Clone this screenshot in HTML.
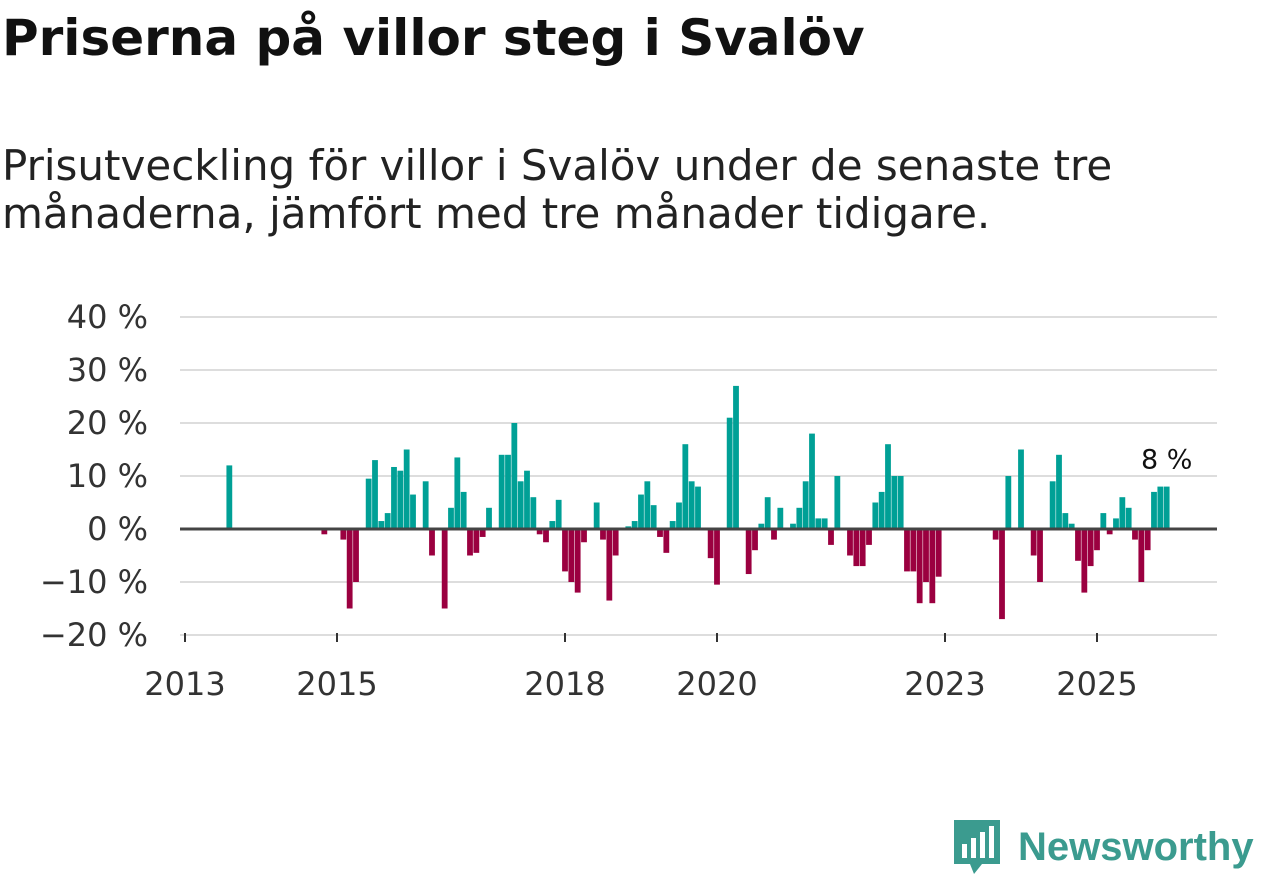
<!DOCTYPE html>
<html><head><meta charset="utf-8"><style>
body{margin:0;width:1262px;height:879px;background:#fff;font-family:"DejaVu Sans",sans-serif;overflow:hidden;position:relative}
h1{position:absolute;left:2px;top:8px;margin:0;font-size:50px;line-height:60px;font-weight:bold;color:#111;white-space:nowrap}
p{position:absolute;left:2px;top:142px;margin:0;font-size:42px;line-height:48px;color:#222;width:1260px;white-space:nowrap}
</style></head><body>
<h1>Priserna på villor steg i Svalöv</h1>
<p>Prisutveckling för villor i Svalöv under de senaste tre<br>månaderna, jämfört med tre månader tidigare.</p>
<svg id="chart" width="1262" height="879" style="position:absolute;left:0;top:0" xmlns="http://www.w3.org/2000/svg"></svg>
<div style="position:absolute;left:952px;top:818px;display:flex;align-items:center">
<svg width="50" height="58" viewBox="0 0 50 58"><path d="M2 2h46v44H30l-8 10-4-10H2z" fill="#3b9b8f"/><rect x="10" y="26" width="5" height="14" fill="#fff"/><rect x="19" y="20" width="5" height="20" fill="#fff"/><rect x="28" y="14" width="5" height="26" fill="#fff"/><rect x="37" y="8" width="5" height="32" fill="#fff"/></svg>
<span style="font-size:40px;color:#3b9b8f;margin-left:16px;font-weight:bold;font-family:'Liberation Sans',sans-serif">Newsworthy</span></div>
<script>
const months=[7,22,25,26,27,29,30,31,32,33,34,35,36,38,39,41,42,43,44,45,46,47,48,50,51,52,53,54,55,56,57,58,59,60,61,62,63,65,66,67,68,70,71,72,73,74,75,76,77,78,79,80,81,83,84,86,87,89,90,91,92,93,94,96,97,98,99,100,101,102,103,105,106,107,108,109,110,111,112,113,114,115,116,117,118,119,128,129,130,132,134,135,137,138,139,140,141,142,143,144,145,146,147,148,149,150,151,152,153,154,155];
const values=[12,-1,-2,-15,-10,9.5,13,1.5,3,11.7,11,15,6.5,9,-5,-15,4,13.5,7,-5,-4.5,-1.5,4,14,14,20,9,11,6,-1,-2.5,1.5,5.5,-8,-10,-12,-2.5,5,-2,-13.5,-5,0.5,1.5,6.5,9,4.5,-1.5,-4.5,1.5,5,16,9,8,-5.5,-10.5,21,27,-8.5,-4,1,6,-2,4,1,4,9,18,2,2,-3,10,-5,-7,-7,-3,5,7,16,10,10,-8,-8,-14,-10,-14,-9,-2,-17,10,15,-5,-10,9,14,3,1,-6,-12,-7,-4,3,-1,2,6,4,-2,-10,-4,7,8,8];
const yTicks=[40,30,20,10,0,-10,-20];
const yLabels=["40 %","30 %","20 %","10 %","0 %","\u221210 %","\u221220 %"];
const xYears=[2013,2015,2018,2020,2023,2025];
const NS="http://www.w3.org/2000/svg",svg=document.getElementById('chart');
const y=v=>529-v*5.3;
const x=m=>185+m*76/12;
function el(t,a){const e=document.createElementNS(NS,t);for(const k in a)e.setAttribute(k,a[k]);svg.appendChild(e);return e;}
yTicks.forEach((t,i)=>{
 if(t!==0){const g=el('line',{x1:180,x2:1217,y1:y(t),y2:y(t),stroke:'#ddd','stroke-width':2});
 
 }
 const l=el('text',{x:148,y:y(t)+11,'text-anchor':'end','font-size':32,fill:'#333','font-family':'DejaVu Sans, sans-serif'});
 l.textContent=yLabels[i];
 
 
});
months.forEach((m,i)=>{
 const v=values[i];
 const r=el('rect',{x:x(m)-2.9,width:5.8,y:v>=0?y(v):y(0),height:Math.abs(v)*5.3,fill:v>=0?'#00a096':'#9b0040'});
 
 
});
const z=el('line',{x1:180,x2:1217,y1:y(0),y2:y(0),stroke:'#444','stroke-width':3});


xYears.forEach(yr=>{
 const px=x((yr-2013)*12);
 const t=el('line',{x1:px,x2:px,y1:633,y2:642,stroke:'#333','stroke-width':2});
 
 
 const l=el('text',{x:px,y:695,'text-anchor':'middle','font-size':32,fill:'#333','font-family':'DejaVu Sans, sans-serif'});
 l.textContent=yr;
 
 
});
const lastM=months[months.length-1],lastV=values[values.length-1];
const a=el('text',{x:x(lastM),y:y(lastV)-18,'text-anchor':'middle','font-size':27,fill:'#111','font-family':'DejaVu Sans, sans-serif'});
a.textContent=lastV+' %';


</script>
</body></html>
